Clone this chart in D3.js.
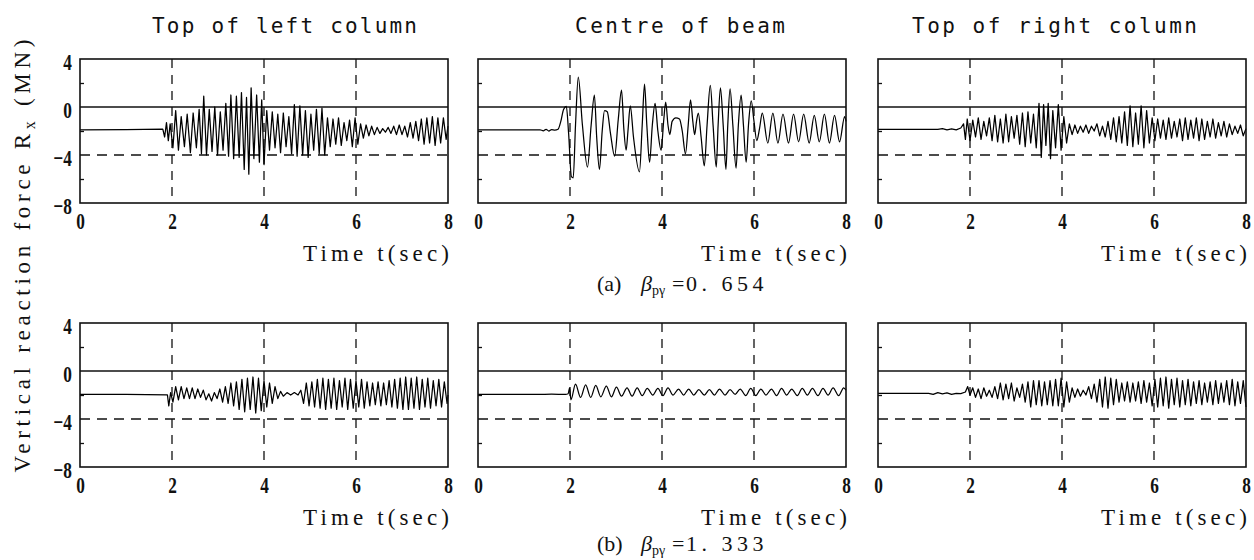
<!DOCTYPE html>
<html>
<head>
<meta charset="UTF-8">
<title>Vertical reaction force - time histories</title>
<script src="https://cdnjs.cloudflare.com/ajax/libs/d3/7.8.5/d3.min.js"></script>
<style>
  body { margin: 0; background: #fff; }
  svg { display: block; }
</style>
</head>
<body>
<div id="chart"></div>
<script>
var titles = ["Top of left column", "Centre of beam", "Top of right column"];
var caseTags = ["(a)", "(b)"];
var betaValues = ["0. 654", "1. 333"];
var xTicks = [0, 2, 4, 6, 8];
var yTicks = [4, 0, -4, -8];
var yMinor = [2, -2, -6];
var xGrid = [2, 4, 6];

// [time (sec), Rx (MN)]
var leftA = [[0,-1.9],[1.0,-1.88],[1.8,-1.85],[1.84,-2.5],[1.88,-1.3],[1.92,-2.8],[1.96,-1.4],[2.02,-3.4],[2.08,-0.3],[2.14,-3.6],[2.2,-0.8],[2.27,-3.3],[2.33,-0.6],[2.4,-3.8],[2.46,-0.5],[2.53,-3.4],[2.59,-0.2],[2.64,-3.9],[2.69,0.9],[2.75,-4.0],[2.81,-0.2],[2.87,-3.7],[2.93,0.0],[2.99,-4.0],[3.05,-0.4],[3.11,-3.6],[3.17,0.3],[3.23,-4.1],[3.28,1.0],[3.34,-4.3],[3.4,0.9],[3.46,-4.2],[3.51,1.2],[3.57,-5.2],[3.62,0.8],[3.67,-5.6],[3.72,1.6],[3.78,-4.3],[3.84,1.0],[3.9,-4.6],[3.95,0.6],[4.0,-4.8],[4.06,-0.3],[4.12,-3.6],[4.18,-0.4],[4.24,-3.4],[4.3,-0.6],[4.36,-3.8],[4.42,-0.5],[4.48,-3.3],[4.54,-0.8],[4.6,-3.9],[4.66,0.2],[4.72,-4.1],[4.78,0.1],[4.84,-4.0],[4.9,-0.3],[4.96,-4.2],[5.02,-0.6],[5.08,-3.6],[5.14,-0.2],[5.2,-3.9],[5.26,-0.1],[5.32,-4.0],[5.38,-0.9],[5.44,-3.3],[5.5,-1.0],[5.56,-3.1],[5.62,-0.9],[5.68,-3.2],[5.74,-1.3],[5.8,-2.8],[5.86,-1.1],[5.92,-3.3],[5.98,-0.9],[6.04,-3.1],[6.1,-1.4],[6.16,-2.6],[6.22,-1.5],[6.28,-2.4],[6.34,-1.6],[6.4,-2.3],[6.46,-1.7],[6.52,-2.2],[6.58,-1.8],[6.64,-2.1],[6.7,-1.7],[6.76,-2.2],[6.82,-1.6],[6.88,-2.3],[6.94,-1.5],[7.0,-2.3],[7.06,-1.6],[7.12,-2.5],[7.18,-1.3],[7.24,-2.6],[7.3,-1.2],[7.36,-2.8],[7.42,-1.0],[7.48,-3.1],[7.54,-0.9],[7.6,-3.0],[7.66,-0.8],[7.72,-3.2],[7.78,-0.9],[7.84,-3.0],[7.9,-0.9],[7.96,-2.7],[8.0,-1.6]];

var beamA = [[0,-1.9],[1.35,-1.9],[1.42,-1.98],[1.48,-1.86],[1.54,-2.0],[1.6,-1.88],[1.67,-1.92],[1.74,-1.85],[1.8,-1.2],[1.86,-0.2],[1.92,0.05],[1.97,-2.2],[2.03,-5.8],[2.07,-5.9],[2.12,-1.5],[2.18,2.5],[2.27,-1.5],[2.38,-5.0],[2.46,-1.5],[2.53,1.0],[2.58,-2.5],[2.64,-5.2],[2.7,-2.0],[2.75,-0.3],[2.81,-0.4],[2.88,-2.2],[2.97,-4.1],[3.05,-1.0],[3.12,1.4],[3.17,-1.8],[3.22,-3.6],[3.26,-2.0],[3.31,0.1],[3.38,-2.5],[3.51,-5.4],[3.57,-1.5],[3.62,1.9],[3.67,-1.5],[3.73,-4.6],[3.79,-1.5],[3.85,0.3],[3.91,-2.0],[3.98,-3.6],[4.04,-1.0],[4.08,0.4],[4.13,-1.5],[4.17,-2.3],[4.22,-1.2],[4.3,-0.9],[4.38,-1.0],[4.44,-2.0],[4.51,-3.9],[4.57,-1.5],[4.62,0.6],[4.67,-1.2],[4.71,-2.3],[4.75,-1.2],[4.79,-0.5],[4.85,-2.5],[4.92,-4.9],[4.98,-1.5],[5.05,1.8],[5.11,-1.5],[5.18,-5.0],[5.22,-1.5],[5.27,1.6],[5.33,-1.5],[5.39,-5.2],[5.43,-1.5],[5.48,1.5],[5.54,-1.5],[5.61,-5.1],[5.66,-1.5],[5.72,1.0],[5.77,-1.5],[5.83,-4.6],[5.88,-1.5],[5.94,0.5],[6.0,-1.2],[6.06,-2.8],[6.12,-1.8],[6.18,-0.5],[6.3,-3.0],[6.41,-0.5],[6.52,-3.0],[6.63,-0.6],[6.75,-3.0],[6.86,-0.6],[6.97,-2.9],[7.08,-0.6],[7.2,-3.0],[7.31,-0.7],[7.42,-2.9],[7.53,-0.6],[7.64,-3.0],[7.75,-0.7],[7.86,-2.9],[7.97,-0.8],[8.0,-1.2]];

var rightA = [[0,-1.86],[1.3,-1.86],[1.4,-1.8],[1.5,-1.9],[1.6,-1.82],[1.7,-1.9],[1.8,-1.75],[1.86,-1.4],[1.9,-2.7],[1.94,-1.0],[2.0,-2.8],[2.06,-1.1],[2.12,-2.5],[2.18,-0.9],[2.24,-2.7],[2.3,-1.2],[2.36,-2.4],[2.42,-0.9],[2.48,-2.8],[2.54,-0.7],[2.6,-2.9],[2.66,-1.0],[2.72,-3.0],[2.78,-0.6],[2.84,-2.9],[2.9,-0.8],[2.96,-2.6],[3.02,-0.7],[3.08,-3.1],[3.14,-0.5],[3.2,-3.3],[3.26,-0.4],[3.32,-3.0],[3.38,-0.6],[3.44,-3.4],[3.5,0.3],[3.55,-4.2],[3.6,0.2],[3.65,-3.2],[3.7,0.3],[3.75,-4.3],[3.8,-0.3],[3.86,-3.4],[3.92,0.2],[3.98,-3.6],[4.04,-0.8],[4.1,-3.0],[4.16,-1.4],[4.22,-2.3],[4.28,-1.5],[4.34,-2.2],[4.4,-1.6],[4.46,-2.1],[4.52,-1.5],[4.58,-2.2],[4.64,-1.6],[4.7,-2.0],[4.76,-1.4],[4.82,-2.4],[4.88,-1.6],[4.94,-2.5],[5.0,-1.2],[5.06,-2.7],[5.12,-0.9],[5.18,-2.9],[5.24,-0.8],[5.3,-3.0],[5.36,-0.4],[5.42,-3.2],[5.48,0.1],[5.54,-3.3],[5.6,-0.5],[5.66,-3.1],[5.72,0.1],[5.78,-3.4],[5.84,-0.3],[5.9,-3.0],[5.96,-0.9],[6.02,-2.8],[6.08,-1.0],[6.14,-2.6],[6.2,-1.1],[6.26,-2.7],[6.32,-0.9],[6.38,-2.6],[6.44,-1.2],[6.5,-2.5],[6.56,-1.0],[6.62,-2.8],[6.68,-0.9],[6.74,-2.7],[6.8,-1.1],[6.86,-2.6],[6.92,-0.9],[6.98,-2.8],[7.04,-1.0],[7.1,-2.7],[7.16,-1.2],[7.22,-2.5],[7.28,-1.0],[7.34,-2.6],[7.4,-1.3],[7.46,-2.4],[7.52,-1.2],[7.58,-2.5],[7.64,-1.4],[7.7,-2.3],[7.76,-1.6],[7.82,-2.2],[7.88,-1.5],[7.94,-2.4],[8.0,-1.8]];

var leftB = [[0,-1.95],[1.0,-1.95],[1.9,-1.98],[1.93,-2.9],[1.97,-1.8],[2.02,-2.6],[2.08,-1.3],[2.14,-2.4],[2.2,-1.3],[2.26,-2.3],[2.32,-1.4],[2.38,-2.3],[2.44,-1.4],[2.5,-2.3],[2.56,-1.5],[2.62,-2.2],[2.68,-1.6],[2.74,-2.4],[2.8,-1.9],[2.86,-2.5],[2.92,-1.8],[2.98,-2.3],[3.04,-1.5],[3.1,-2.6],[3.16,-1.3],[3.22,-2.7],[3.28,-1.0],[3.34,-2.9],[3.4,-0.9],[3.46,-3.2],[3.52,-0.7],[3.58,-3.4],[3.64,-0.6],[3.7,-3.2],[3.76,-0.5],[3.82,-3.5],[3.88,-0.6],[3.94,-3.3],[4.0,-0.8],[4.06,-3.0],[4.12,-1.0],[4.18,-2.7],[4.24,-1.3],[4.3,-2.3],[4.36,-1.7],[4.42,-2.1],[4.5,-1.8],[4.58,-2.0],[4.66,-1.8],[4.74,-2.0],[4.8,-1.6],[4.86,-2.7],[4.92,-1.0],[4.98,-2.9],[5.04,-0.9],[5.1,-3.0],[5.16,-0.7],[5.22,-3.1],[5.28,-0.6],[5.34,-3.2],[5.4,-0.7],[5.46,-3.1],[5.52,-0.6],[5.58,-3.2],[5.64,-0.8],[5.7,-3.0],[5.76,-0.6],[5.82,-3.2],[5.88,-0.7],[5.94,-3.1],[6.0,-0.8],[6.06,-3.0],[6.12,-0.7],[6.18,-3.1],[6.24,-0.9],[6.3,-2.9],[6.36,-1.0],[6.42,-2.8],[6.48,-0.9],[6.54,-2.9],[6.6,-1.0],[6.66,-2.8],[6.72,-0.8],[6.78,-3.0],[6.84,-0.7],[6.9,-3.1],[6.96,-0.6],[7.02,-3.2],[7.08,-0.5],[7.14,-3.2],[7.2,-0.6],[7.26,-3.1],[7.32,-0.5],[7.38,-3.2],[7.44,-0.7],[7.5,-3.0],[7.56,-0.6],[7.62,-3.1],[7.68,-0.8],[7.74,-2.9],[7.8,-0.7],[7.86,-3.0],[7.92,-0.9],[7.98,-2.7],[8.0,-2.0]];

var beamB = [[0,-1.95],[1.3,-1.95],[1.6,-1.93],[1.9,-1.95],[1.96,-1.9],[1.99,-1.4],[2.02,-2.4],[2.12,-1.1],[2.23,-2.2],[2.34,-1.15],[2.45,-2.2],[2.56,-1.2],[2.67,-2.15],[2.79,-1.25],[2.9,-2.15],[3.01,-1.35],[3.12,-2.1],[3.24,-1.4],[3.35,-2.1],[3.46,-1.4],[3.57,-2.05],[3.68,-1.45],[3.8,-2.0],[3.91,-1.45],[4.02,-2.05],[4.13,-1.4],[4.24,-2.0],[4.36,-1.5],[4.47,-2.0],[4.58,-1.5],[4.69,-2.0],[4.8,-1.55],[4.92,-2.0],[5.03,-1.55],[5.14,-2.0],[5.25,-1.5],[5.37,-2.0],[5.48,-1.55],[5.59,-1.95],[5.7,-1.5],[5.82,-2.05],[5.93,-1.45],[6.04,-2.05],[6.15,-1.5],[6.26,-2.0],[6.38,-1.5],[6.49,-2.05],[6.6,-1.45],[6.71,-2.0],[6.82,-1.5],[6.94,-2.05],[7.05,-1.45],[7.16,-2.0],[7.27,-1.45],[7.39,-2.05],[7.5,-1.45],[7.61,-2.0],[7.72,-1.4],[7.84,-2.05],[7.95,-1.4],[8.0,-1.6]];

var rightB = [[0,-1.86],[1.1,-1.86],[1.2,-1.95],[1.3,-1.8],[1.4,-1.9],[1.5,-1.82],[1.6,-1.95],[1.7,-1.86],[1.8,-1.88],[1.9,-1.75],[1.95,-1.3],[2.0,-2.0],[2.06,-1.4],[2.12,-2.2],[2.18,-1.5],[2.24,-2.3],[2.3,-1.4],[2.36,-2.1],[2.42,-1.6],[2.48,-2.2],[2.54,-1.3],[2.6,-2.3],[2.66,-1.0],[2.72,-2.4],[2.78,-1.1],[2.84,-2.3],[2.9,-1.0],[2.96,-2.5],[3.02,-1.4],[3.08,-2.2],[3.14,-1.1],[3.2,-2.6],[3.26,-0.9],[3.32,-3.0],[3.38,-0.8],[3.44,-2.8],[3.5,-0.8],[3.56,-2.9],[3.62,-0.9],[3.68,-2.8],[3.74,-0.8],[3.8,-2.9],[3.86,-0.7],[3.92,-2.9],[3.98,-0.6],[4.04,-3.0],[4.1,-0.9],[4.16,-2.6],[4.22,-1.4],[4.28,-2.2],[4.34,-1.5],[4.4,-2.1],[4.46,-1.6],[4.52,-2.0],[4.58,-1.3],[4.64,-2.3],[4.7,-1.1],[4.76,-2.6],[4.82,-0.7],[4.88,-3.0],[4.94,-0.5],[5.0,-3.1],[5.06,-0.6],[5.12,-2.8],[5.18,-0.7],[5.24,-2.6],[5.3,-1.0],[5.36,-2.5],[5.42,-0.9],[5.48,-2.6],[5.54,-1.0],[5.6,-2.5],[5.66,-0.9],[5.72,-2.7],[5.78,-0.8],[5.84,-2.6],[5.9,-1.0],[5.96,-2.9],[6.02,-0.7],[6.08,-3.0],[6.14,-0.6],[6.2,-2.9],[6.26,-0.5],[6.32,-3.1],[6.38,-0.7],[6.44,-2.8],[6.5,-0.6],[6.56,-3.0],[6.62,-0.8],[6.68,-2.8],[6.74,-0.7],[6.8,-2.9],[6.86,-0.9],[6.92,-2.7],[6.98,-0.8],[7.04,-2.8],[7.1,-1.0],[7.16,-2.6],[7.22,-0.9],[7.28,-2.8],[7.34,-0.8],[7.4,-2.7],[7.46,-1.0],[7.52,-2.6],[7.58,-0.8],[7.64,-2.8],[7.7,-0.7],[7.76,-2.9],[7.82,-0.9],[7.88,-2.7],[7.94,-0.8],[8.0,-3.0]];

var series = [[leftA, beamA, rightA], [leftB, beamB, rightB]];

var W = 1254, H = 560,
    panelX = [80, 478, 878],
    panelY = [59, 323],
    pw = 368, ph = 144,
    titleX = [152, 575, 912],
    titleLen = [265, 210, 285],
    serif = "'Liberation Serif', 'Times New Roman', serif",
    sansMono = "'DejaVu Sans Mono', monospace",
    ink = "#111";

var svg = d3.select("#chart").append("svg")
    .attr("width", W)
    .attr("height", H)
    .style("background", "#fff");

function drawPanel(row, col) {
    var x0 = panelX[col], y0 = panelY[row];
    var x = d3.scaleLinear().domain([0, 8]).range([x0, x0 + pw]);
    var y = d3.scaleLinear().domain([-8, 4]).range([y0 + ph, y0]);
    var g = svg.append("g");

    g.selectAll(".vgrid").data(xGrid).enter().append("line")
        .attr("x1", d => x(d)).attr("x2", d => x(d))
        .attr("y1", y0).attr("y2", y0 + ph)
        .attr("stroke", ink).attr("stroke-width", 1.3)
        .attr("stroke-dasharray", "9,7");

    g.append("line")
        .attr("x1", x0).attr("x2", x0 + pw)
        .attr("y1", y(-4)).attr("y2", y(-4))
        .attr("stroke", ink).attr("stroke-width", 1.3)
        .attr("stroke-dasharray", "10,7");

    g.append("line")
        .attr("x1", x0).attr("x2", x0 + pw)
        .attr("y1", y(0)).attr("y2", y(0))
        .attr("stroke", ink).attr("stroke-width", 1.3);

    var line = d3.line()
        .x(d => x(d[0]))
        .y(d => y(d[1]))
        .curve(col == 1 ? d3.curveMonotoneX : d3.curveLinear);

    g.append("path")
        .datum(series[row][col])
        .attr("d", line)
        .attr("fill", "none")
        .attr("stroke", "#000")
        .attr("stroke-width", 1.25)
        .attr("stroke-linejoin", "round");

    // small inward ticks on the left edge
    var minor = g.append("g")
        .attr("transform", "translate(" + x0 + ",0)")
        .call(d3.axisLeft(y).tickValues(yMinor).tickSize(-4).tickFormat(""));
    minor.select(".domain").remove();
    minor.selectAll("line").attr("stroke", ink).attr("stroke-width", 1.3);

    g.append("rect")
        .attr("x", x0).attr("y", y0)
        .attr("width", pw).attr("height", ph)
        .attr("fill", "none")
        .attr("stroke", ink)
        .attr("stroke-width", 1.6);

    var xa = g.append("g")
        .attr("transform", "translate(0," + (y0 + ph) + ")")
        .call(d3.axisBottom(x).tickValues(xTicks).tickSize(0));
    xa.select(".domain").remove();
    xa.selectAll("text")
        .attr("y", 26).attr("dy", null)
        .attr("transform", "scale(0.72,1)")
        .style("font-family", serif)
        .style("font-size", "24px")
        .style("font-weight", "bold")
        .attr("fill", ink);

    if (col == 0) {
        var ya = g.append("g")
            .attr("transform", "translate(" + x0 + ",0)")
            .call(d3.axisLeft(y).tickValues(yTicks).tickSize(0)
                .tickFormat(d => d < 0 ? "\u2212" + Math.abs(d) : d));
        ya.select(".domain").remove();
        ya.selectAll("text")
            .attr("x", -8 / 0.72).attr("dy", null).attr("y", 10)
            .attr("transform", "scale(0.72,1)")
            .style("font-family", serif)
            .style("font-size", "24px")
            .style("font-weight", "bold")
            .attr("fill", ink);
    }

    g.append("text")
        .attr("x", x0 + pw + 1)
        .attr("y", y0 + ph + 58)
        .attr("text-anchor", "end")
        .attr("textLength", 146)
        .attr("lengthAdjust", "spacing")
        .style("font-family", serif)
        .style("font-size", "23px")
        .attr("fill", ink)
        .text("Time t(sec)");
}

for (var r = 0; r < 2; r++) {
    for (var c = 0; c < 3; c++) drawPanel(r, c);
}

svg.selectAll(".title").data(titles).enter().append("text")
    .attr("class", "title")
    .attr("x", (d, i) => titleX[i])
    .attr("y", 33)
    .attr("textLength", (d, i) => titleLen[i])
    .attr("lengthAdjust", "spacing")
    .style("font-family", sansMono)
    .style("font-size", "21px")
    .attr("fill", ink)
    .text(d => d);

var ylab = svg.append("text")
    .attr("transform", "translate(30,256) rotate(-90)")
    .attr("text-anchor", "middle")
    .attr("textLength", 433)
    .attr("lengthAdjust", "spacing")
    .style("font-family", serif)
    .style("font-size", "23px")
    .attr("fill", ink);
ylab.append("tspan").text("Vertical reaction force R");
ylab.append("tspan").attr("dy", 5).style("font-size", "16px").text("x");
ylab.append("tspan").attr("dy", -5).text(" (MN)");

// case captions under each row
caseTags.forEach(function(tag, i) {
    var cx = 597, cy = panelY[i] + ph + (i == 0 ? 88 : 84);
    var t = svg.append("text")
        .attr("y", cy)
        .style("font-family", serif)
        .style("font-size", "22px")
        .attr("fill", ink);
    t.append("tspan").attr("x", cx).text(tag);
    t.append("tspan").attr("x", cx + 44).style("font-style", "italic").text("\u03b2");
    t.append("tspan").attr("dy", 4).style("font-size", "14px").text("p\u03b3");
    t.append("tspan").attr("x", cx + 75).attr("dy", -4).text("=");
    t.append("tspan").attr("x", cx + 89).style("letter-spacing", "4.5px").text(betaValues[i]);
});
</script>
</body>
</html>
